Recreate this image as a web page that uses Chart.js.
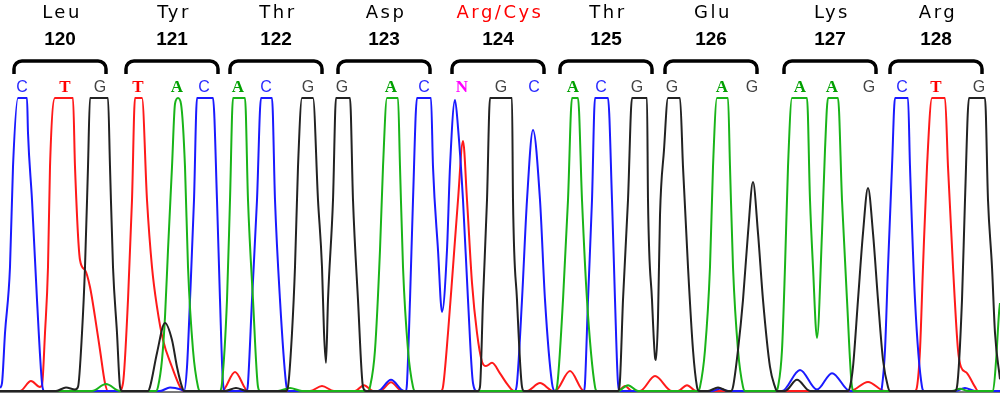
<!DOCTYPE html>
<html>
<head>
<meta charset="utf-8">
<script src="https://cdn.jsdelivr.net/npm/chart.js@4.4.0/dist/chart.umd.min.js"></script>
<style>
  html, body { margin: 0; padding: 0; background: #fff; }
  #wrap { width: 1000px; height: 396px; }
</style>
</head>
<body>
<div id="wrap"><canvas id="chromCanvas" width="1000" height="396"></canvas></div>
<script>
// ----------------------------------------------------------
// Codons / base calls
// ----------------------------------------------------------
const codonNumbers = [120, 121, 122, 123, 124, 125, 126, 127, 128];
const aminoAcids = ["Leu", "Tyr", "Thr", "Asp", "Arg/Cys", "Thr", "Glu", "Lys", "Arg"];
const codonScan = [60, 172, 276, 384, 498, 606, 711, 830, 936];
const mutantCodon = 124;

const baseCalls = ["C","T","G", "T","A","C", "A","C","G", "G","A","C", "N","G","C",
                   "A","C","G", "G","A","G", "A","A","G", "C","T","G"];
const baseCallScan = [22, 65, 100, 138, 177, 204, 238, 266, 308, 342, 391, 424, 462, 501, 534,
                      573, 601, 637, 672, 722, 752, 800, 832, 869, 902, 936, 979];

// ----------------------------------------------------------
// Traces: [scan position, signal] (signal 1000 = top of window)
// ----------------------------------------------------------
const traceC = [
  [0, 10], [2, 27], [5, 198], [10, 423], [13, 765], [18, 1000], [27, 1000], [28, 881], [32, 652], [37, 311], [42, 27], [44, 0],
  [160, 0], [170, 12], [181, 5],
  [184, 0], [187, 82], [190, 311], [194, 652], [197, 1000], [213, 1000], [217, 652], [220, 311], [223, 27], [225, 0],
  [247, 0], [248, 27], [252, 311], [257, 652], [261, 1000], [272, 1000], [275, 652], [280, 311], [286, 27], [288, 0],
  [378, 0], [391, 38], [404, 0],
  [406, 0], [407, 27], [410, 311], [413, 652], [417, 1000], [431, 1000], [433, 765], [438, 481], [442, 270],
  [447, 481], [450, 765], [455, 993], [458, 900], [463, 652], [468, 311], [473, 27], [477, 0],
  [515, 0], [517, 27], [522, 311], [527, 652], [533, 891], [540, 652], [545, 311], [552, 27], [555, 0],
  [584, 0], [585, 27], [588, 311], [592, 652], [595, 1000], [608, 1000], [612, 652], [615, 311], [618, 27], [620, 0],
  [712, 0], [720, 8], [728, 0],
  [782, 0], [800, 72], [817, 5], [832, 61], [850, 0],
  [881, 0], [882, 14], [885, 140], [888, 423], [892, 765], [895, 1000], [908, 1000], [910, 765], [915, 311], [922, 14], [924, 0],
  [955, 0], [965, 10], [975, 0], [1000, 0]
];

const traceT = [
  [0, 0], [20, 0], [31, 34], [40, 14], [42, 20], [45, 198], [48, 423], [50, 765], [55, 1000], [73, 1000],
  [75, 765], [80, 447], [85, 413], [90, 355], [95, 253], [100, 140], [105, 27], [108, 0],
  [119, 0], [123, 27], [128, 311], [132, 652], [135, 1000], [142, 1000], [147, 652], [152, 423], [157, 287],
  [163, 174], [172, 82], [180, 14], [183, 0],
  [222, 0], [235, 65], [248, 0],
  [310, 0], [322, 17], [334, 0],
  [355, 0], [364, 20], [373, 0],
  [380, 0], [391, 30], [402, 0],
  [441, 0], [443, 14], [448, 198], [453, 423], [458, 652], [463, 853], [467, 652], [472, 369], [477, 198],
  [482, 100], [486, 85], [492, 96], [500, 60], [508, 20], [514, 0],
  [527, 0], [540, 27], [553, 0],
  [555, 0], [570, 68], [584, 0],
  [618, 0], [625, 17], [632, 0],
  [640, 0], [655, 51], [672, 0],
  [678, 0], [687, 20], [696, 0],
  [850, 0], [868, 31], [885, 0],
  [915, 0], [917, 14], [920, 140], [923, 423], [927, 765], [932, 1000], [945, 1000], [948, 765], [953, 423],
  [958, 140], [961, 82], [967, 61], [975, 14], [978, 0], [1000, 0]
];

const traceG = [
  [0, 0], [56, 0], [66, 12], [75, 5], [78, 14], [82, 198], [85, 423], [88, 765], [90, 1000], [108, 1000],
  [110, 765], [113, 423], [117, 198], [120, 14], [122, 0],
  [148, 0], [150, 14], [157, 130], [165, 232], [172, 174], [177, 82], [182, 14], [184, 0],
  [225, 0], [236, 10], [247, 0],
  [286, 0], [288, 14], [292, 198], [295, 423], [298, 765], [302, 1000], [313, 1000], [318, 652], [322, 423],
  [324, 200], [326, 96], [328, 311], [333, 652], [336, 1000], [350, 1000], [353, 652], [358, 311], [363, 14], [366, 0],
  [478, 0], [480, 14], [483, 311], [487, 652], [490, 1000], [512, 1000], [513, 652], [517, 311], [522, 14], [524, 0],
  [618, 0], [620, 38], [623, 311], [628, 652], [632, 1000], [647, 1000], [648, 652], [652, 311], [655, 116],
  [656, 106], [658, 250], [660, 600], [664, 823], [668, 1000], [680, 1000], [683, 765], [688, 423], [693, 140], [697, 14], [699, 0],
  [708, 0], [718, 12], [728, 0],
  [731, 0], [733, 14], [738, 140], [743, 311], [748, 539], [753, 713], [758, 539], [763, 311], [770, 82], [775, 14], [777, 0],
  [785, 0], [797, 38], [810, 0],
  [848, 0], [850, 14], [853, 82], [858, 311], [863, 539], [868, 693], [873, 539], [878, 311], [883, 106], [888, 14], [890, 0],
  [955, 0], [957, 14], [962, 311], [965, 652], [969, 1000], [985, 1000], [988, 652], [992, 423], [995, 198], [1000, 40]
];

const traceA = [
  [0, 0], [92, 0], [106, 24], [120, 0],
  [156, 0], [158, 14], [162, 106], [165, 253], [168, 481], [172, 765], [175, 980], [178, 1000], [181, 980],
  [185, 765], [188, 423], [193, 140], [198, 14], [200, 0],
  [220, 0], [222, 27], [227, 311], [230, 652], [233, 1000], [245, 1000], [248, 652], [253, 311], [258, 14], [260, 0],
  [278, 0], [290, 10], [302, 0],
  [368, 0], [370, 14], [375, 140], [380, 481], [383, 765], [387, 1000], [398, 1000], [400, 765], [403, 423], [408, 140], [413, 14], [415, 0],
  [555, 0], [557, 14], [563, 311], [568, 652], [572, 1000], [578, 1000], [582, 652], [587, 311], [595, 14], [597, 0],
  [618, 0], [628, 20], [638, 0],
  [698, 0], [700, 14], [705, 140], [710, 423], [713, 765], [717, 1000], [728, 1000], [730, 765], [733, 423], [738, 140], [743, 14], [745, 0],
  [776, 0], [778, 14], [782, 140], [785, 423], [788, 765], [792, 1000], [807, 1000], [810, 652], [813, 423], [817, 181],
  [822, 539], [825, 823], [828, 1000], [838, 1000], [842, 652], [847, 311], [852, 14], [854, 0],
  [952, 0], [960, 8], [968, 0],
  [993, 0], [996, 100], [999, 266], [1000, 300]
];

// Farben wie im Chromatogramm
const baseColors = { A: "#19b419", C: "#1a1aff", G: "#222222", T: "#ff1a1a", N: "#ff00ff" };
const callColors = { A: "#00a000", C: "#2a2aff", G: "#444444", T: "#ff0000", N: "#ff00ff" };

// ----------------------------------------------------------
// Plugin: Grundlinie
// ----------------------------------------------------------
const baselinePlugin = {
  id: "baseline",
  beforeDatasetsDraw(chart) {
    const ctx = chart.ctx;
    const y0 = chart.scales.y.getPixelForValue(0) + 1;
    ctx.save();
    ctx.strokeStyle = "#7a7a7a";
    ctx.lineWidth = 2;
    ctx.beginPath();
    ctx.moveTo(0, y0);
    ctx.lineTo(chart.width, y0);
    ctx.stroke();
    ctx.restore();
  }
};

// ----------------------------------------------------------
// Plugin: Aminosäuren, Codon-Nummern, Klammern, Basen
// ----------------------------------------------------------
const codonPlugin = {
  id: "codonLabels",
  afterDraw(chart) {
    const ctx = chart.ctx;
    const xs = chart.scales.x;
    const half = 46; // halbe Klammerbreite in Scan-Einheiten
    ctx.save();
    ctx.textAlign = "center";
    ctx.textBaseline = "alphabetic";

    codonNumbers.forEach((num, i) => {
      const cx = xs.getPixelForValue(codonScan[i]);

      // Aminosäure
      ctx.font = "18px 'DejaVu Sans'";
      ctx.letterSpacing = "2.5px";
      ctx.fillStyle = num === mutantCodon ? "#ff0000" : "#000000";
      ctx.fillText(aminoAcids[i], cx + 2, 18);

      // Nummer
      ctx.letterSpacing = "0px";
      ctx.font = "bold 19px 'Liberation Sans'";
      ctx.fillStyle = "#000000";
      ctx.fillText(String(num), cx, 45);

      // Klammer
      const l = xs.getPixelForValue(codonScan[i] - half);
      const r = xs.getPixelForValue(codonScan[i] + half);
      const top = 61, bottom = 74, rad = 8;
      ctx.strokeStyle = "#000000";
      ctx.lineWidth = 3.5;
      ctx.beginPath();
      ctx.moveTo(l, bottom);
      ctx.lineTo(l, top + rad);
      ctx.arcTo(l, top, l + rad, top, rad);
      ctx.lineTo(r - rad, top);
      ctx.arcTo(r, top, r, top + rad, rad);
      ctx.lineTo(r, bottom);
      ctx.stroke();
    });

    // Basen-Buchstaben
    baseCalls.forEach((b, i) => {
      const bx = xs.getPixelForValue(baseCallScan[i]);
      ctx.font = (b === "C" || b === "G") ? "16px 'Liberation Sans'" : "bold 17px 'Liberation Serif'";
      ctx.fillStyle = callColors[b];
      ctx.fillText(b, bx, 92);
    });
    ctx.restore();
  }
};

function makeDataset(label, points) {
  return {
    label: label,
    data: points,
    borderColor: baseColors[label],
    borderWidth: 2,
    pointRadius: 0,
    fill: false,
    cubicInterpolationMode: "monotone",
    clip: false
  };
}

const ctx = document.getElementById("chromCanvas").getContext("2d");
const chromChart = new Chart(ctx, {
  type: "line",
  data: {
    datasets: [
      makeDataset("G", traceG),
      makeDataset("A", traceA),
      makeDataset("C", traceC),
      makeDataset("T", traceT)
    ]
  },
  options: {
    responsive: false,
    animation: false,
    parsing: true,
    layout: { padding: { top: 98, bottom: 5, left: 0, right: 0 } },
    plugins: { legend: { display: false }, tooltip: { enabled: false } },
    scales: {
      x: { type: "linear", min: 0, max: 1000, display: false },
      y: { min: 0, max: 1000, display: false }
    }
  },
  plugins: [baselinePlugin, codonPlugin]
});
</script>
</body>
</html>
